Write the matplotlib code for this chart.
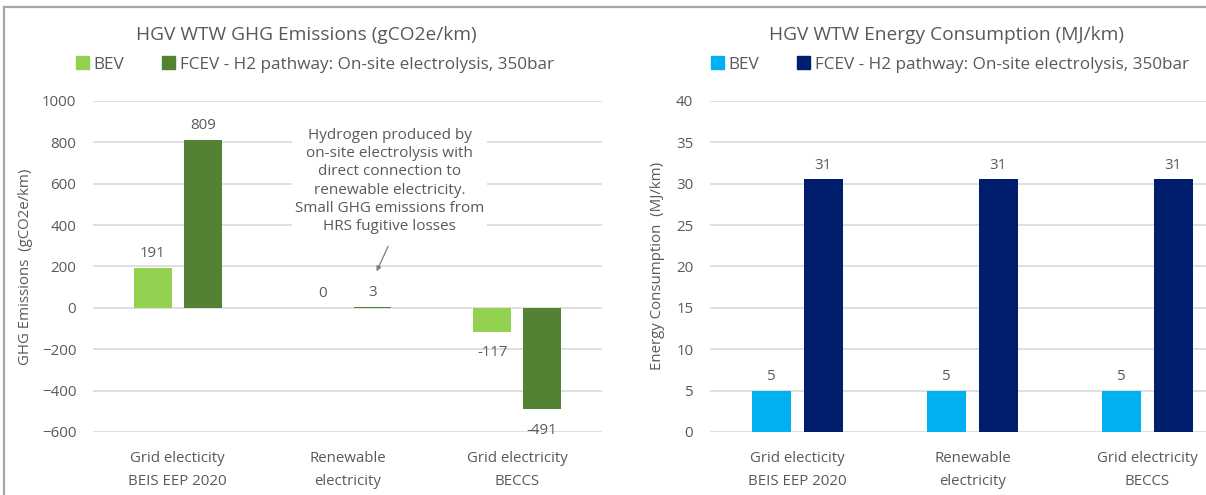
import matplotlib.pyplot as plt
import numpy as np

plt.rcParams['font.family'] = ['Open Sans', 'DejaVu Sans']

categories = ["Grid electicity\nBEIS EEP 2020", "Renewable\nelectricity", "Grid electricity\nBECCS"]
series_names = ["BEV", "FCEV - H2 pathway: On-site electrolysis, 350bar"]

ghg_bev = [191, 0, -117]
ghg_fcev = [809, 3, -491]

energy_bev = [5, 5, 5]
energy_fcev = [30.5, 30.5, 30.5]
energy_bev_labels = ["5", "5", "5"]
energy_fcev_labels = ["31", "31", "31"]

note = ("Hydrogen produced by\non-site electrolysis with\ndirect connection to\n"
        "renewable electricity.\nSmall GHG emissions from\nHRS fugitive losses")

TXT = "#595959"
GRID = "#D9D9D9"

fig = plt.figure(figsize=(12.06, 4.95), dpi=100)

# panel frame
fig.add_artist(plt.Line2D([0.0037, 1.0], [0.985, 0.985], color="#A6A6A6", lw=1.6))
fig.add_artist(plt.Line2D([0.0037, 0.0037], [0.0, 0.985], color="#A6A6A6", lw=1.6))

ax1 = fig.add_axes([0.0771, 0.1273, 0.422, 0.669])
ax2 = fig.add_axes([0.5887, 0.1273, 0.4353, 0.669])

x = np.arange(len(categories))
w = 0.222
off = 0.147


def style(ax, ylim, ticks):
    ax.set_ylim(*ylim)
    ax.set_yticks(ticks)
    ax.set_xlim(-0.5, 2.5)
    ax.set_xticks(x)
    ax.set_xticklabels(categories, linespacing=1.7)
    ax.grid(axis="y", color=GRID, lw=1.2)
    ax.set_axisbelow(True)
    for s in ax.spines.values():
        s.set_visible(False)
    ax.tick_params(length=0, colors=TXT, labelsize=10.8)
    ax.tick_params(axis="x", pad=14)
    ax.tick_params(axis="y", pad=12)


def label_bars(ax, xs, vals, texts):
    for xi, v, t in zip(xs, vals, texts):
        up = v >= 0
        ax.annotate(t, (xi, v), xytext=(0, 5 if up else -9.5), textcoords="offset points",
                    ha="center", va="bottom" if up else "top", color=TXT, fontsize=10.8)


# GHG emissions
style(ax1, (-600, 1000), range(-600, 1001, 200))
ax1.bar(x - off, ghg_bev, w, color="#92D050")
ax1.bar(x + off, ghg_fcev, w, color="#548235")
label_bars(ax1, x - off, ghg_bev, [str(v) for v in ghg_bev])
label_bars(ax1, x + off, ghg_fcev, [str(v) for v in ghg_fcev])
ax1.set_ylabel("GHG Emissions  (gCO2e/km)", color=TXT, fontsize=10.8, labelpad=6)
ax1.set_title("HGV WTW GHG Emissions (gCO2e/km)", color=TXT, fontsize=13.8, pad=44, x=0.42)
ax1.text(1.25, 612, note, ha="center", va="center", color=TXT, fontsize=11, linespacing=1.3,
         bbox=dict(facecolor="white", edgecolor="none", pad=2))
ax1.annotate("", xy=(1.165, 164), xytext=(1.247, 310),
             arrowprops=dict(arrowstyle="-|>", color="#7F7F7F", lw=0.9, mutation_scale=7))

# Energy consumption
style(ax2, (0, 40), range(0, 41, 5))
ax2.bar(x - off, energy_bev, w, color="#00B0F0")
ax2.bar(x + off, energy_fcev, w, color="#001E6C")
label_bars(ax2, x - off, energy_bev, energy_bev_labels)
label_bars(ax2, x + off, energy_fcev, energy_fcev_labels)
ax2.set_ylabel("Energy Consumption  (MJ/km)", color=TXT, fontsize=10.8, labelpad=8)
ax2.set_title("HGV WTW Energy Consumption (MJ/km)", color=TXT, fontsize=13.8, pad=44, x=0.45)

# legends
h1 = [plt.Rectangle((0, 0), 1, 1, color=c) for c in ("#92D050", "#548235")]
h2 = [plt.Rectangle((0, 0), 1, 1, color=c) for c in ("#00B0F0", "#001E6C")]
for ax, h, xa in ((ax1, h1, 0.436), (ax2, h2, 0.457)):
    ax.legend(h, series_names, loc="center", bbox_to_anchor=(xa, 1.11), ncol=2, frameon=False,
              fontsize=12.3, handlelength=0.75, handleheight=0.75, handletextpad=0.3,
              columnspacing=2.2, labelcolor=TXT)

fig.savefig("out.png", dpi=100)
